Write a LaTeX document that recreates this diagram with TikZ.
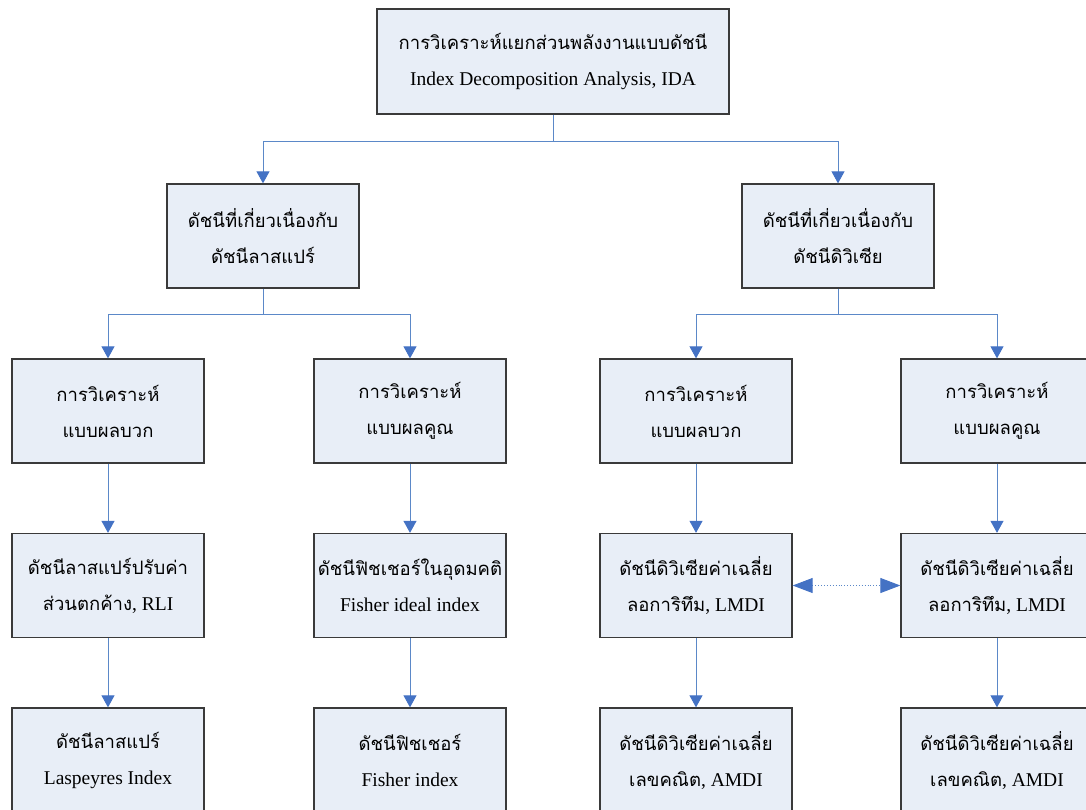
\documentclass[tikz,border=0pt]{standalone}
\usepackage{fontspec}
\setmainfont{Liberation Serif}
\newfontfamily\thaiface[Script=Thai]{Loma}
\newcommand\thai{\thaiface\fontsize{18.5}{36}\selectfont}
\usetikzlibrary{arrows.meta,calc}
\definecolor{boxfill}{HTML}{E8EEF7}
\definecolor{boxdraw}{HTML}{3A3A3A}
\definecolor{linecol}{HTML}{5B88C8}
\definecolor{tipcol}{HTML}{4472C4}
\begin{document}
\begin{tikzpicture}[x=1pt,y=-1pt,
  box/.style={draw=boxdraw, line width=1.3pt, fill=boxfill, minimum width=192pt, minimum height=104pt, inner sep=0pt, align=center, font=\fontsize{19.5}{36}\selectfont},
  conn/.style={draw=linecol, line width=0.9pt, -{Triangle[length=12pt,width=13pt,fill=tipcol,color=tipcol]}},
  dconn/.style={draw=linecol, line width=0.9pt, dotted, {Triangle[length=20pt,width=15pt,fill=tipcol,color=tipcol]}-{Triangle[length=20pt,width=15pt,fill=tipcol,color=tipcol]}}]
\useasboundingbox (0,0) rectangle (1086,809);
\clip (0,0) rectangle (1086,809);
\node[box, minimum width=352pt, minimum height=105pt] (top) at (553,61.5) {{\thai การวิเคราะห์แยกส่วนพลังงานแบบดัชนี}\\Index Decomposition Analysis, IDA};
\node[box] (la) at (263,236) {{\thai ดัชนีที่เกี่ยวเนื่องกับ}\\{\thai ดัชนีลาสแปร์}};
\node[box] (ra) at (838,236) {{\thai ดัชนีที่เกี่ยวเนื่องกับ}\\{\thai ดัชนีดิวิเซีย}};
\node[box] (c1) at (108,411) {{\thai การวิเคราะห์}\\{\thai แบบผลบวก}};
\node[box] (c2) at (410,411) {{\thai การวิเคราะห์}\\{\thai แบบผลคูณ}};
\node[box] (c3) at (696,411) {{\thai การวิเคราะห์}\\{\thai แบบผลบวก}};
\node[box] (c4) at (997,411) {{\thai การวิเคราะห์}\\{\thai แบบผลคูณ}};
\node[box] (d1) at (108,585.5) {{\thai ดัชนีลาสแปร์ปรับค่า}\\{\thai ส่วนตกค้าง}, RLI};
\node[box] (d2) at (410,585.5) {{\thai ดัชนีฟิชเชอร์ในอุดมคติ}\\Fisher ideal index};
\node[box] (d3) at (696,585.5) {{\thai ดัชนีดิวิเซียค่าเฉลี่ย}\\{\thai ลอการิทึม}, LMDI};
\node[box] (d4) at (997,585.5) {{\thai ดัชนีดิวิเซียค่าเฉลี่ย}\\{\thai ลอการิทึม}, LMDI};
\node[box] (e1) at (108,760) {{\thai ดัชนีลาสแปร์}\\Laspeyres Index};
\node[box] (e2) at (410,760) {{\thai ดัชนีฟิชเชอร์}\\Fisher index};
\node[box] (e3) at (696,760) {{\thai ดัชนีดิวิเซียค่าเฉลี่ย}\\{\thai เลขคณิต}, AMDI};
\node[box] (e4) at (997,760) {{\thai ดัชนีดิวิเซียค่าเฉลี่ย}\\{\thai เลขคณิต}, AMDI};
\coordinate (b0) at ($(top.south)+(0,27)$);
\coordinate (b1) at ($(la.south)+(0,26)$);
\coordinate (b2) at ($(ra.south)+(0,26)$);
\draw[conn] (top.south) -- (b0) -| (la.north);
\draw[conn] (b0) -| (ra.north);
\draw[conn] (la.south) -- (b1) -| (c1.north);
\draw[conn] (b1) -| (c2.north);
\draw[conn] (ra.south) -- (b2) -| (c3.north);
\draw[conn] (b2) -| (c4.north);
\foreach \i in {1,2,3,4}{
  \draw[conn] (c\i.south) -- (d\i.north);
  \draw[conn] (d\i.south) -- (e\i.north);
}
\draw[dconn] (d3.east) -- (d4.west);
\end{tikzpicture}
\end{document}
